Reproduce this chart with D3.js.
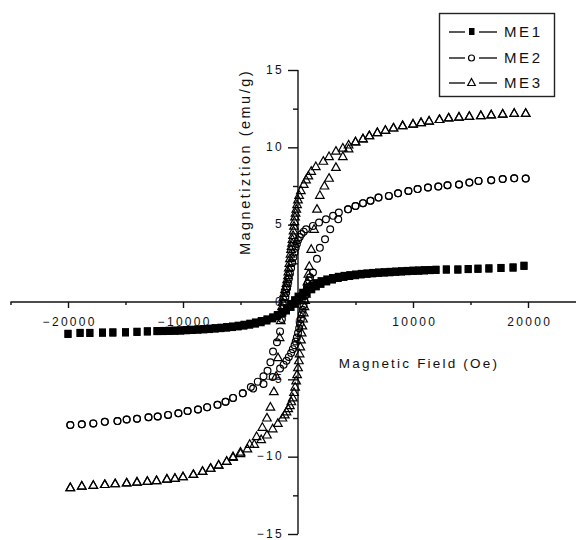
<!DOCTYPE html>
<html>
<head>
<meta charset="utf-8">
<script src="https://cdn.jsdelivr.net/npm/d3@7"></script>
<style>
  html, body { margin: 0; padding: 0; background: #fff; }
  svg { display: block; }
  text { font-family: "Liberation Sans", Arial, sans-serif; fill: #111; }
</style>
</head>
<body>
<svg id="chart" width="576" height="540"></svg>
<script>
// ---- Data: [field (Oe), magnetization (emu/g)] ----
const seriesNames = ["ME1", "ME2", "ME3"];

const me1Down = [[19650,2.34],[18700,2.23],[17650,2.2],[16600,2.17],[15650,2.15],[14800,2.13],[13900,2.1],[12900,2.1],[12000,2.08],[11500,2.07],[11000,2.06],[10500,2.04],[10000,2.03],[9500,2.01],[9000,1.99],[8500,1.97],[8000,1.95],[7500,1.93],[7000,1.91],[6500,1.88],[6000,1.85],[5500,1.82],[5000,1.78],[4500,1.74],[4000,1.69],[3500,1.63],[3000,1.55],[2500,1.46],[2000,1.35],[1600,1.22],[1200,1.05],[800,0.83],[400,0.6],[0,0.35],[-300,0.12],[-600,-0.12],[-1000,-0.4],[-1400,-0.64],[-1800,-0.84],[-2200,-0.99],[-2700,-1.12],[-3200,-1.23],[-3700,-1.32],[-4200,-1.4],[-4700,-1.47],[-5200,-1.53],[-5700,-1.58],[-6200,-1.62],[-6700,-1.66],[-7200,-1.69],[-7700,-1.72],[-8200,-1.75],[-8700,-1.77],[-9200,-1.79],[-9700,-1.81],[-10200,-1.83],[-10700,-1.85],[-11200,-1.86],[-11700,-1.87],[-12260,-1.88],[-13100,-1.9],[-14000,-1.93],[-15000,-1.96],[-16100,-1.97],[-17000,-1.98],[-18100,-2.0],[-18950,-2.0],[-20000,-2.06]];
const me1Up = [[-20000,-2.06],[-18950,-2.0],[-18100,-2.0],[-17000,-1.98],[-16100,-1.97],[-15000,-1.96],[-14000,-1.93],[-13100,-1.9],[-12260,-1.88],[-11700,-1.88],[-11200,-1.87],[-10700,-1.86],[-10200,-1.85],[-9700,-1.83],[-9200,-1.81],[-8700,-1.79],[-8200,-1.77],[-7700,-1.75],[-7200,-1.72],[-6700,-1.69],[-6200,-1.66],[-5700,-1.62],[-5200,-1.58],[-4700,-1.53],[-4200,-1.47],[-3700,-1.4],[-3200,-1.31],[-2700,-1.2],[-2200,-1.06],[-1800,-0.92],[-1400,-0.75],[-1000,-0.55],[-600,-0.32],[-300,-0.12],[0,0.08],[400,0.35],[800,0.6],[1200,0.82],[1600,1.01],[2000,1.17],[2500,1.33],[3000,1.45],[3500,1.55],[4000,1.62],[4500,1.68],[5000,1.73],[5500,1.78],[6000,1.82],[6500,1.85],[7000,1.88],[7500,1.9],[8000,1.92],[8500,1.95],[9000,1.97],[9500,1.99],[10000,2.01],[10500,2.02],[11000,2.04],[11500,2.06],[12000,2.08],[12900,2.1],[13900,2.1],[14800,2.13],[15650,2.15],[16600,2.17],[17650,2.2],[18700,2.23],[19650,2.34]];

const me2Down = [[19800,7.98],[18800,8.0],[17800,7.95],[16800,7.87],[15700,7.83],[14900,7.72],[14000,7.6],[13000,7.55],[12200,7.46],[11300,7.4],[10400,7.3],[9600,7.18],[8700,7.03],[7900,6.86],[7000,6.75],[6300,6.54],[5650,6.39],[5000,6.21],[4350,6.0],[3550,5.79],[3050,5.57],[2430,5.35],[1830,5.14],[1300,4.92],[700,4.7],[500,4.55],[300,4.4],[150,4.2],[0,4.0],[-100,3.75],[-200,3.5],[-300,3.2],[-400,2.9],[-500,2.55],[-600,2.2],[-700,1.85],[-800,1.5],[-880,1.2],[-950,0.9],[-1030,0.6],[-1100,0.3],[-1180,-0.05],[-1250,-0.4],[-1330,-0.75],[-1400,-1.1],[-1560,-1.9],[-1830,-2.6],[-2170,-3.2],[-2400,-3.9],[-2650,-4.45],[-3000,-4.8],[-3500,-5.15],[-4100,-5.5],[-4800,-5.9],[-5650,-6.2],[-6300,-6.45],[-7000,-6.65],[-7900,-6.8],[-8700,-6.95],[-9600,-7.05],[-10400,-7.2],[-11300,-7.3],[-12200,-7.4],[-13000,-7.45],[-14000,-7.55],[-14900,-7.6],[-15700,-7.7],[-16800,-7.75],[-17800,-7.85],[-18800,-7.9],[-19800,-7.95]];
const me2Up = [[-19800,-7.95],[-18800,-7.9],[-17800,-7.85],[-16800,-7.75],[-15700,-7.7],[-14900,-7.6],[-14000,-7.55],[-13000,-7.45],[-12200,-7.4],[-11300,-7.3],[-10400,-7.2],[-9600,-7.05],[-8700,-6.95],[-7900,-6.8],[-7000,-6.65],[-6300,-6.45],[-5650,-6.2],[-4800,-5.9],[-3900,-5.6],[-3000,-5.3],[-2200,-4.85],[-1560,-4.3],[-1250,-4.05],[-1000,-3.8],[-800,-3.55],[-600,-3.3],[-450,-3.05],[-300,-2.8],[-200,-2.55],[-100,-2.3],[0,-2.0],[100,-1.7],[180,-1.4],[250,-1.1],[330,-0.8],[400,-0.5],[480,-0.2],[550,0.1],[620,0.4],[700,0.7],[780,0.95],[850,1.2],[950,1.4],[1050,1.6],[1300,1.9],[1650,2.8],[1900,3.5],[2350,4.06],[2800,4.7],[3500,5.35],[4350,6.0],[5000,6.21],[5650,6.39],[6300,6.54],[7000,6.75],[7900,6.86],[8700,7.03],[9600,7.18],[10400,7.3],[11300,7.4],[12200,7.46],[13000,7.55],[14000,7.6],[14900,7.72],[15700,7.83],[16800,7.87],[17800,7.95],[18800,8.0],[19800,7.98]];

const me3Down = [[19800,12.2],[18800,12.2],[17800,12.15],[16800,12.1],[15900,12.05],[14900,12.0],[14000,11.95],[13100,11.9],[12300,11.8],[11400,11.7],[10700,11.6],[10000,11.5],[9100,11.4],[8300,11.25],[7600,11.1],[6900,10.95],[6200,10.75],[5650,10.55],[5000,10.35],[4400,10.15],[3900,9.95],[3300,9.75],[2700,9.4],[2200,9.1],[1550,8.75],[1150,8.45],[900,8.15],[700,7.9],[500,7.6],[250,7.2],[100,6.9],[0,6.6],[-80,6.3],[-150,6.0],[-210,5.75],[-260,5.5],[-310,5.2],[-350,4.9],[-390,4.6],[-430,4.3],[-480,4.05],[-520,3.8],[-560,3.6],[-600,3.4],[-650,3.1],[-700,2.8],[-750,2.5],[-800,2.2],[-840,1.95],[-870,1.7],[-940,1.45],[-1000,1.2],[-1060,1.0],[-1130,0.8],[-1200,0.55],[-1260,0.3],[-1330,0.0],[-1390,-0.3],[-1450,-0.7],[-1500,-1.2],[-1600,-2.3],[-1740,-3.6],[-1900,-4.8],[-2100,-5.8],[-2400,-6.8],[-2700,-7.5],[-3100,-8.1],[-3600,-8.7],[-4200,-9.2],[-5000,-9.7],[-5650,-10.0],[-6200,-10.3],[-6900,-10.55],[-7600,-10.75],[-8300,-10.95],[-9100,-11.15],[-10000,-11.3],[-10700,-11.4],[-11400,-11.45],[-12300,-11.55],[-13100,-11.6],[-14000,-11.65],[-14900,-11.7],[-15900,-11.75],[-16800,-11.8],[-17800,-11.85],[-18800,-11.9],[-19800,-12.0]];
const me3Up = [[-19800,-12.0],[-18800,-11.9],[-17800,-11.85],[-16800,-11.8],[-15900,-11.75],[-14900,-11.7],[-14000,-11.65],[-13100,-11.6],[-12300,-11.55],[-11400,-11.45],[-10700,-11.4],[-10000,-11.3],[-9100,-11.15],[-8300,-10.95],[-7600,-10.75],[-6900,-10.55],[-6200,-10.3],[-5650,-10.05],[-5000,-9.8],[-4400,-9.5],[-3800,-9.2],[-3200,-8.9],[-2700,-8.6],[-2200,-8.2],[-1750,-7.85],[-1350,-7.5],[-1150,-7.3],[-1000,-7.1],[-850,-6.9],[-700,-6.7],[-580,-6.45],[-450,-6.2],[-350,-5.85],[-250,-5.5],[-160,-5.1],[-80,-4.7],[0,-4.25],[80,-3.8],[140,-3.35],[200,-2.9],[260,-2.45],[320,-2.0],[380,-1.55],[440,-1.1],[500,-0.7],[560,-0.3],[620,0.1],[680,0.5],[750,0.9],[820,1.3],[900,1.8],[980,2.3],[1150,3.4],[1400,4.7],[1650,6.0],[1900,6.9],[2300,7.5],[2700,8.0],[3300,8.7],[3900,9.4],[4400,9.9],[5000,10.35],[5650,10.55],[6200,10.75],[6900,10.95],[7600,11.1],[8300,11.25],[9100,11.4],[10000,11.5],[10700,11.6],[11400,11.7],[12300,11.8],[13100,11.9],[14000,11.95],[14900,12.0],[15900,12.05],[16800,12.1],[17800,12.15],[18800,12.2],[19800,12.2]];

const xMajorTicks = [-20000, -10000, 0, 10000, 20000];
const xMinorTicks = [-25000, -15000, -5000, 5000, 15000, 25000];
const yMajorTicks = [-15, -10, -5, 0, 5, 10, 15];
const yMinorTicks = [-12.5, -7.5, -2.5, 2.5, 7.5, 12.5];
const xTitle = "Magnetic Field (Oe)";
const yTitle = "Magnetiztion (emu/g)";

// ---- Drawing ----
const svg = d3.select("#chart");
const x = d3.scaleLinear().domain([-25000, 25000]).range([10.5, 585.5]);
const y = d3.scaleLinear().domain([-15, 15]).range([534, 70]);

const axisColor = "#111";
const tickFont = "Liberation Sans, Arial, sans-serif";

// X axis (at y = 0)
const gx = svg.append("g").attr("transform", `translate(0,${y(0)})`);
gx.call(d3.axisBottom(x).tickValues(xMinorTicks).tickSize(3).tickFormat(""))
  .call(g => g.select(".domain").remove());
gx.append("g").call(d3.axisBottom(x).tickValues(xMajorTicks).tickSize(6).tickFormat(d3.format("d")).tickPadding(12))
  .call(g => g.select(".domain").remove());
gx.append("line").attr("x1", x(-25000)).attr("x2", 576).attr("y1", 0).attr("y2", 0);
gx.selectAll("line").attr("stroke", axisColor).attr("stroke-width", 1.4);
gx.selectAll("text").attr("font-size", 12).attr("letter-spacing", "2.3px")
  .attr("font-family", tickFont).attr("fill", "#151515")
  .attr("dy", "0.5em").attr("dx", "1.2px");

// Y axis (at x = 0)
const gy = svg.append("g").attr("transform", `translate(${x(0)},0)`);
gy.call(d3.axisLeft(y).tickValues(yMinorTicks).tickSize(5).tickFormat(""))
  .call(g => g.select(".domain").remove());
gy.append("g").call(d3.axisLeft(y).tickValues(yMajorTicks).tickSize(10).tickFormat(d3.format("d")).tickPadding(4))
  .call(g => g.select(".domain").remove());
gy.append("line").attr("x1", 0).attr("x2", 0).attr("y1", y(15)).attr("y2", y(-15));
gy.selectAll("line").attr("stroke", axisColor).attr("stroke-width", 1.4);
gy.selectAll("text").attr("font-size", 12).attr("letter-spacing", "2.3px")
  .attr("font-family", tickFont).attr("fill", "#151515").attr("dy", "0.25em");
gy.selectAll(".tick").filter(d => d === 0).select("line").remove();

// Axis titles
svg.append("text").attr("x", 419).attr("y", 368).attr("text-anchor", "middle")
  .attr("font-size", 13.5).attr("letter-spacing", "2.2px").text(xTitle);
svg.append("text").attr("transform", `translate(250,162) rotate(-90)`).attr("text-anchor", "middle")
  .attr("font-size", 14.5).attr("letter-spacing", "2.5px").text(yTitle);

// Markers
const triPath = "M0,-4.6L4.3,3L-4.3,3Z";
function drawSquares(data) {
  svg.append("g").selectAll("rect").data(data).join("rect")
    .attr("x", d => x(d[0]) - 3.5).attr("y", d => y(d[1]) - 4)
    .attr("width", 7).attr("height", 8).attr("fill", "#000");
}
function drawCircles(data) {
  svg.append("g").selectAll("circle").data(data).join("circle")
    .attr("cx", d => x(d[0])).attr("cy", d => y(d[1])).attr("r", 3.4)
    .attr("fill", "none").attr("stroke", "#000").attr("stroke-width", 1.2);
}
function drawTriangles(data) {
  svg.append("g").selectAll("path").data(data).join("path")
    .attr("transform", d => `translate(${x(d[0])},${y(d[1])})`)
    .attr("d", triPath).attr("fill", "none").attr("stroke", "#000").attr("stroke-width", 1.2);
}
drawSquares(me1Down); drawSquares(me1Up);
drawCircles(me2Down); drawCircles(me2Up);
drawTriangles(me3Down); drawTriangles(me3Up);

// Legend
const leg = svg.append("g");
leg.append("rect").attr("x", 439.5).attr("y", 13.5).attr("width", 115).attr("height", 83)
  .attr("fill", "#fff").attr("stroke", "#222").attr("stroke-width", 1.4);
const rowsY = [32, 58, 83];
seriesNames.forEach((name, i) => {
  const cy = rowsY[i];
  leg.append("line").attr("x1", 449).attr("x2", 465).attr("y1", cy).attr("y2", cy).attr("stroke", "#000").attr("stroke-width", 1.3);
  leg.append("line").attr("x1", 479).attr("x2", 497).attr("y1", cy).attr("y2", cy).attr("stroke", "#000").attr("stroke-width", 1.3);
  if (i === 0) leg.append("rect").attr("x", 469).attr("y", cy - 4).attr("width", 5.5).attr("height", 7).attr("fill", "#000");
  if (i === 1) leg.append("circle").attr("cx", 471.5).attr("cy", cy).attr("r", 3).attr("fill", "none").attr("stroke", "#000").attr("stroke-width", 1.2);
  if (i === 2) leg.append("path").attr("transform", `translate(471.5,${cy - 0.5})`).attr("d", "M0,-4L3.8,3L-3.8,3Z").attr("fill", "none").attr("stroke", "#000").attr("stroke-width", 1.2);
  leg.append("text").attr("x", 504).attr("y", cy).attr("dy", "0.36em")
    .attr("font-size", 15).attr("letter-spacing", "2.6px").text(name);
});
</script>
</body>
</html>
